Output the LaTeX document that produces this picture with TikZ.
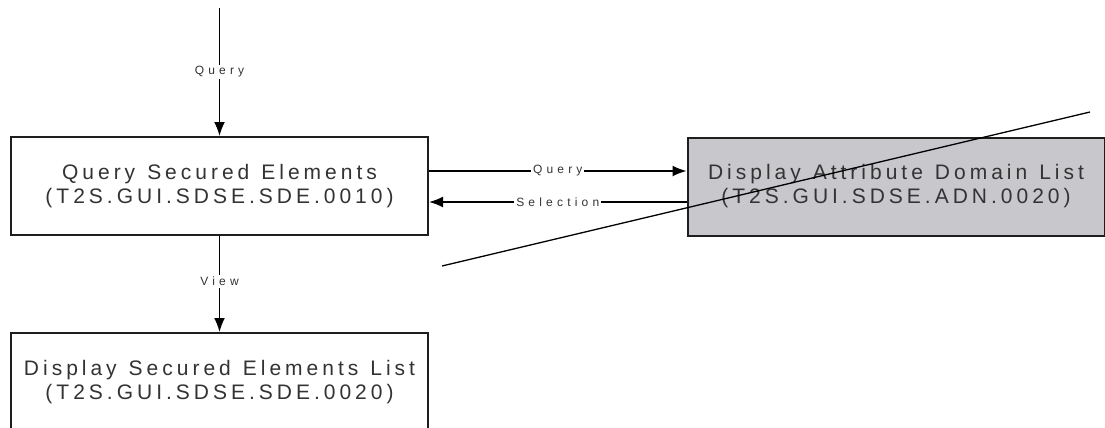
\documentclass[tikz,border=0pt]{standalone}
\usepackage{fontspec}
\usetikzlibrary{arrows.meta}
\newfontfamily\boxfont[LetterSpace=19]{Liberation Sans}
\newfontfamily\labfont[LetterSpace=35]{Liberation Sans}
\newcommand\wgap{\hspace{5pt}}
\definecolor{boxgray}{RGB}{200,199,203}
\definecolor{linegray}{RGB}{30,30,30}
\tikzset{
  procbox/.style={draw=linegray, line width=2pt, fill=white, minimum width=417pt, minimum height=98pt,
    text width=417pt, align=center, inner sep=0pt, font=\boxfont\fontsize{21}{24}\selectfont, text=black!80},
  graybox/.style={procbox, fill=boxgray},
  conn/.style={draw=black, line width=1.6pt, -{Latex[length=14pt,width=11pt]}},
  lab/.style={fill=white, inner sep=2pt, font=\labfont\fontsize{12}{14}\selectfont, text=black!80},
  strike/.style={draw=black, line width=1.3pt}
}
\begin{document}
\begin{tikzpicture}[x=1pt,y=-1pt]
\useasboundingbox (0,0) rectangle (1105,428);
\clip (0,0) rectangle (1105,428);
\node[procbox] (qse) at (219.5,186) {Query \wgap Secured \wgap Elements\\(T2S.GUI.SDSE.SDE.0010)};
\node[graybox] (dad) at (896,186.5) {Display \wgap Attribute \wgap Domain \wgap List\\(T2S.GUI.SDSE.ADN.0020)};
\node[procbox] (dse) at (219.5,382) {Display \wgap Secured \wgap Elements \wgap List\\(T2S.GUI.SDSE.SDE.0020)};
\coordinate (topin) at (219.5,8);
\draw[conn] (topin) -- node[lab] {Query} (qse.north);
\draw[conn] (qse.south) -- node[lab, pos=0.47] {View} (dse.north);
\draw[conn] ([yshift=15pt]qse.east) -- node[lab] {Query} ([yshift=15pt]qse.east -| dad.west);
\draw[conn] ([yshift=-16pt]qse.east -| dad.west) -- node[lab] {Selection} ([yshift=-16pt]qse.east);
\coordinate (sa) at (442,266);
\coordinate (sb) at (1090,112);
\draw[strike] (sa) -- (sb);
\end{tikzpicture}
\end{document}
